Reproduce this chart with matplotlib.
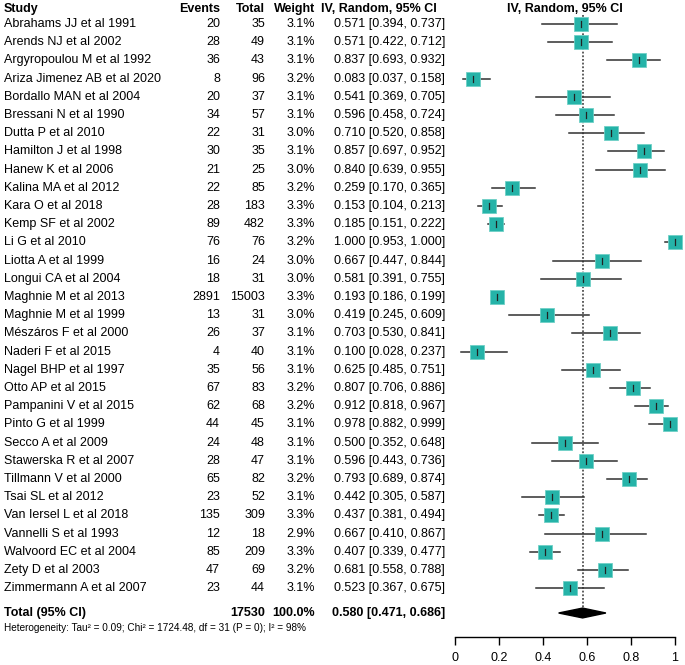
import matplotlib.pyplot as plt
from matplotlib.transforms import blended_transform_factory

# 字体
plt.rcParams['font.family'] = ['Liberation Sans', 'DejaVu Sans']

studies = ["Abrahams JJ et al 1991", "Arends NJ et al 2002", "Argyropoulou M et al 1992",
           "Ariza Jimenez AB et al 2020", "Bordallo MAN et al 2004", "Bressani N et al 1990",
           "Dutta P et al 2010", "Hamilton J et al 1998", "Hanew K et al 2006",
           "Kalina MA et al 2012", "Kara O et al 2018", "Kemp SF et al 2002", "Li G et al 2010",
           "Liotta A et al 1999", "Longui CA et al 2004", "Maghnie M et al 2013",
           "Maghnie M et al 1999", "Mészáros F et al 2000", "Naderi F et al 2015",
           "Nagel BHP et al 1997", "Otto AP et al 2015", "Pampanini V et al 2015",
           "Pinto G et al 1999", "Secco A et al 2009", "Stawerska R et al 2007",
           "Tillmann V et al 2000", "Tsai SL et al 2012", "Van Iersel L et al 2018",
           "Vannelli S et al 1993", "Walvoord EC et al 2004", "Zety D et al 2003",
           "Zimmermann A et al 2007"]
events = [20, 28, 36, 8, 20, 34, 22, 30, 21, 22, 28, 89, 76, 16, 18, 2891,
          13, 26, 4, 35, 67, 62, 44, 24, 28, 65, 23, 135, 12, 85, 47, 23]
totals = [35, 49, 43, 96, 37, 57, 31, 35, 25, 85, 183, 482, 76, 24, 31, 15003,
          31, 37, 40, 56, 83, 68, 45, 48, 47, 82, 52, 309, 18, 209, 69, 44]
weights = [3.1, 3.1, 3.1, 3.2, 3.1, 3.1, 3.0, 3.1, 3.0, 3.2, 3.3, 3.3, 3.2, 3.0, 3.0, 3.3,
           3.0, 3.1, 3.1, 3.1, 3.2, 3.2, 3.1, 3.1, 3.1, 3.2, 3.1, 3.3, 2.9, 3.3, 3.2, 3.1]
est = [0.571, 0.571, 0.837, 0.083, 0.541, 0.596, 0.710, 0.857, 0.840, 0.259, 0.153, 0.185,
       1.000, 0.667, 0.581, 0.193, 0.419, 0.703, 0.100, 0.625, 0.807, 0.912, 0.978, 0.500,
       0.596, 0.793, 0.442, 0.437, 0.667, 0.407, 0.681, 0.523]
lower = [0.394, 0.422, 0.693, 0.037, 0.369, 0.458, 0.520, 0.697, 0.639, 0.170, 0.104, 0.151,
         0.953, 0.447, 0.391, 0.186, 0.245, 0.530, 0.028, 0.485, 0.706, 0.818, 0.882, 0.352,
         0.443, 0.689, 0.305, 0.381, 0.410, 0.339, 0.558, 0.367]
upper = [0.737, 0.712, 0.932, 0.158, 0.705, 0.724, 0.858, 0.952, 0.955, 0.365, 0.213, 0.222,
         1.000, 0.844, 0.755, 0.199, 0.609, 0.841, 0.237, 0.751, 0.886, 0.967, 0.999, 0.648,
         0.736, 0.874, 0.587, 0.494, 0.867, 0.477, 0.788, 0.675]

total_n = 17530
total_weight = "100.0%"
pooled = [0.580, 0.471, 0.686]
xticks = [0, 0.2, 0.4, 0.6, 0.8, 1]
xtick_labels = ["0", "0.2", "0.4", "0.6", "0.8", "1"]
het_text = "Heterogeneity: Tau² = 0.09; Chi² = 1724.48, df = 31 (P = 0); I² = 98%"

W, H = 685, 665
fig = plt.figure(figsize=(W / 100, H / 100), dpi=100)
# 森林图区域: x 0->455px, 1->675px; 行距 18.2px
ax = fig.add_axes([455 / W, 28 / H, 220 / W, 637 / H])
ax.set_xlim(0, 1)
row_h = 18.2
ax.set_ylim((637 - 24) / row_h, -24 / row_h)

total_row = (613 - 24) / row_h
het_row = (628 - 24) / row_h
head_row = (9 - 24) / row_h

# 各研究
for i in range(len(studies)):
    ax.plot([lower[i], upper[i]], [i, i], color='#303030', lw=1.1, zorder=2, clip_on=False)
    ax.plot(est[i], i, marker='s', markersize=weights[i] * 4.5 * 0.72,
            markerfacecolor='#25b3a8', markeredgecolor='#6fd0c6', markeredgewidth=0.6,
            zorder=3, clip_on=False)
    ax.plot([est[i], est[i]], [i - 0.16, i + 0.16], color='#222222', lw=0.9, zorder=4,
            clip_on=False)

# 合并效应菱形
dh = 0.27
ax.fill([pooled[1], pooled[0], pooled[2], pooled[0]],
        [total_row, total_row - dh, total_row, total_row + dh], color='black', zorder=3)

# 虚线
ax.plot([pooled[0], pooled[0]], [-0.5, total_row], color='#333333', lw=1.1,
        linestyle=(0, (1.2, 1.2)), zorder=1)

for s in ['top', 'right', 'left']:
    ax.spines[s].set_visible(False)
ax.spines['bottom'].set_bounds(0, 1)
ax.spines['bottom'].set_linewidth(1.0)
ax.set_yticks([])
ax.set_xticks(xticks)
ax.set_xticklabels(xtick_labels)
ax.tick_params(axis='x', direction='out', length=6, width=1.0, labelsize=9, pad=5)
ax.set_facecolor('none')

# 文字列
tr = blended_transform_factory(fig.transFigure, ax.transData)
fs = 9
ax.text(4 / W, head_row, "Study", transform=tr, ha='left', va='center', fontsize=fs, fontweight='bold')
ax.text(220 / W, head_row, "Events", transform=tr, ha='right', va='center', fontsize=fs, fontweight='bold')
ax.text(265 / W, head_row, "Total", transform=tr, ha='right', va='center', fontsize=fs, fontweight='bold')
ax.text(315 / W, head_row, "Weight", transform=tr, ha='right', va='center', fontsize=fs, fontweight='bold')
ax.text(321 / W, head_row, "IV, Random, 95% CI", transform=tr, ha='left', va='center', fontsize=fs, fontweight='bold')
ax.text(0.5, head_row, "IV, Random, 95% CI", ha='center', va='center', fontsize=fs, fontweight='bold')

for i in range(len(studies)):
    ax.text(4 / W, i, studies[i], transform=tr, ha='left', va='center', fontsize=fs)
    ax.text(220 / W, i, str(events[i]), transform=tr, ha='right', va='center', fontsize=fs)
    ax.text(265 / W, i, str(totals[i]), transform=tr, ha='right', va='center', fontsize=fs)
    ax.text(315 / W, i, f"{weights[i]:.1f}%", transform=tr, ha='right', va='center', fontsize=fs)
    ax.text(445 / W, i, f"{est[i]:.3f} [{lower[i]:.3f}, {upper[i]:.3f}]", transform=tr,
            ha='right', va='center', fontsize=fs)

ax.text(4 / W, total_row, "Total (95% CI)", transform=tr, ha='left', va='center', fontsize=fs, fontweight='bold')
ax.text(265 / W, total_row, str(total_n), transform=tr, ha='right', va='center', fontsize=fs, fontweight='bold')
ax.text(315 / W, total_row, total_weight, transform=tr, ha='right', va='center', fontsize=fs, fontweight='bold')
ax.text(445 / W, total_row, f"{pooled[0]:.3f} [{pooled[1]:.3f}, {pooled[2]:.3f}]", transform=tr,
        ha='right', va='center', fontsize=fs, fontweight='bold')
ax.text(4 / W, het_row, het_text, transform=tr, ha='left', va='center', fontsize=7.2)

plt.savefig('out.png', dpi=100)
